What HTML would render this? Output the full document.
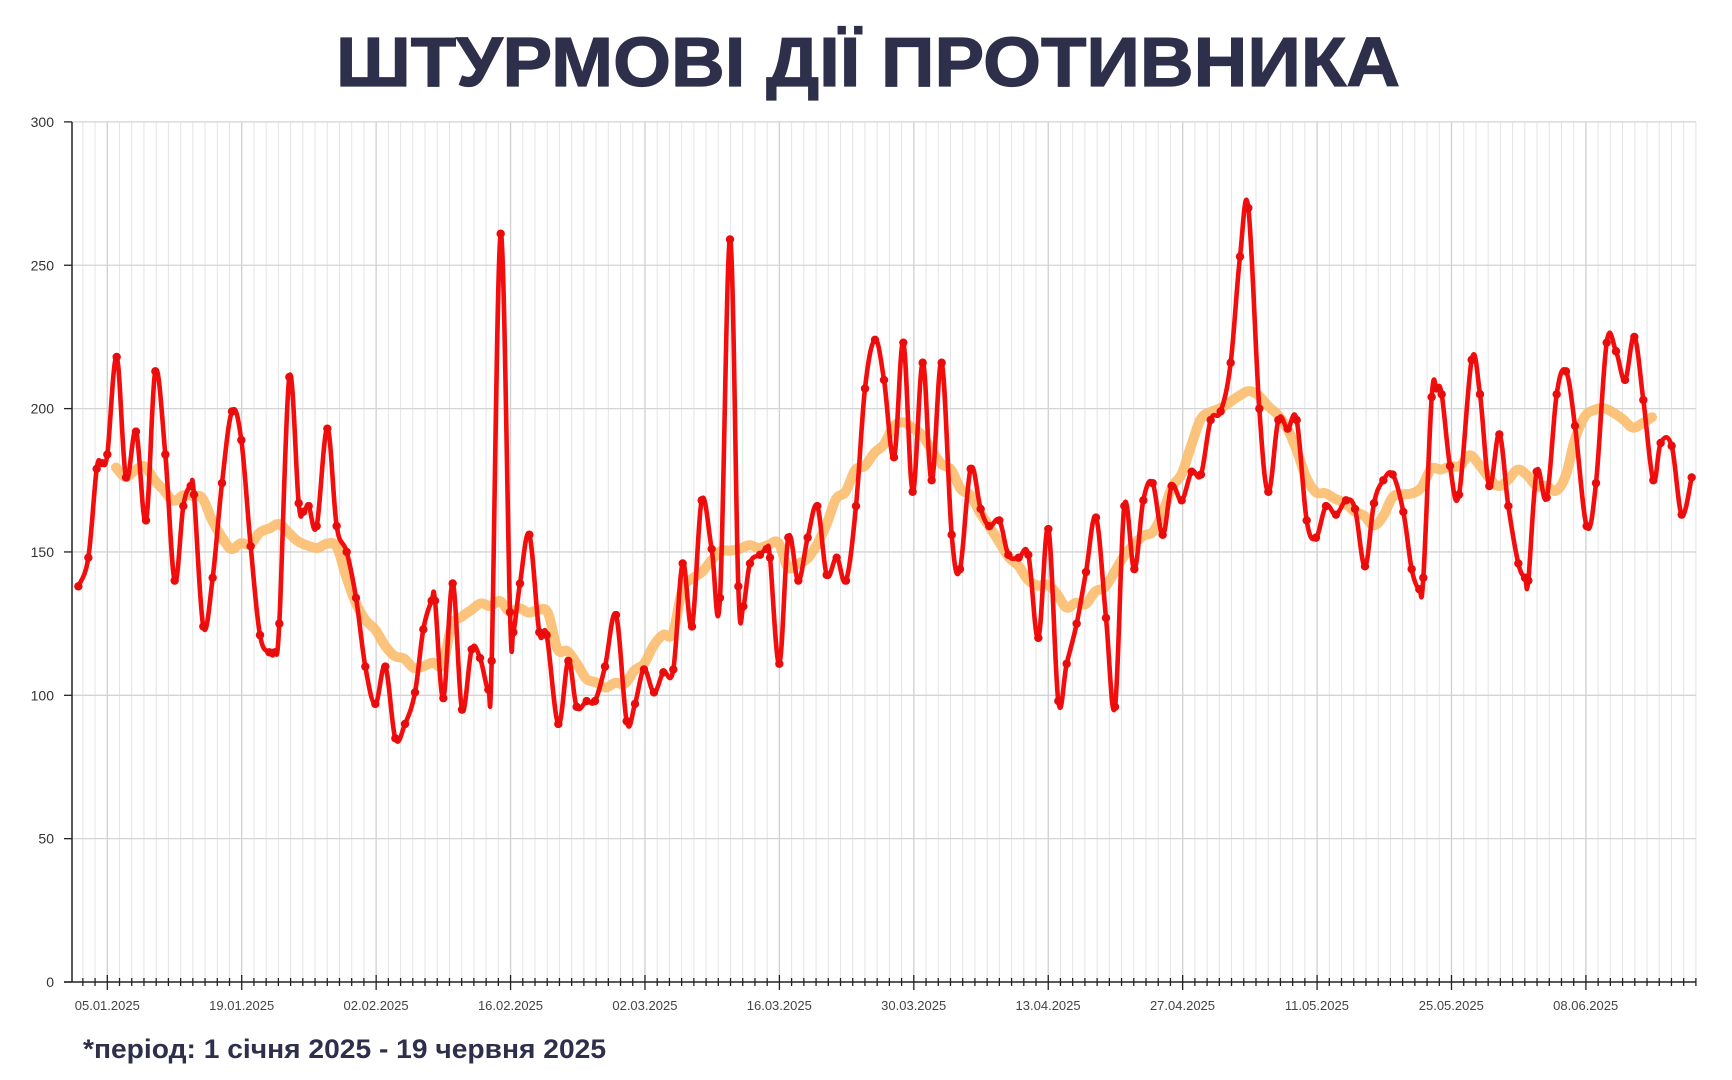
<!DOCTYPE html>
<html><head><meta charset="utf-8">
<style>
html,body{margin:0;padding:0;background:#fff;}
svg{display:block;}
</style></head>
<body>
<svg id="c" width="1732" height="1080" xmlns="http://www.w3.org/2000/svg" font-family="Liberation Sans, sans-serif">
<rect width="1732" height="1080" fill="#fff"/>
<text x="868" y="86" text-anchor="middle" font-size="70" font-weight="bold" fill="#2e2f4a" stroke="#2e2f4a" stroke-width="1.2" textLength="1064" lengthAdjust="spacingAndGlyphs">ШТУРМОВІ ДІЇ ПРОТИВНИКА</text>
<g id="grid"></g>
<g id="series"></g>
<g id="axes"></g>
<text x="83" y="1058" font-size="27" font-weight="bold" fill="#2e2f4a" textLength="523" lengthAdjust="spacingAndGlyphs">*період: 1 січня 2025 - 19 червня 2025</text>
</svg>
<script>
var NS="http://www.w3.org/2000/svg";
function el(p,t,a,txt){var e=document.createElementNS(NS,t);for(var k in a)e.setAttribute(k,a[k]);if(txt!==undefined)e.textContent=txt;p.appendChild(e);return e;}
var X0=72,X1=1696,Y0=982,K=2.867;
function Y(v){return Y0-v*K;}
var grid=document.getElementById('grid'),axes=document.getElementById('axes'),ser=document.getElementById('series');
var ticks=[];
for(var k=-2;;k++){var x=107.3+k*12.22;if(x>X1)break;if(x<X0+2)continue;ticks.push([x,k%11===0]);}
ticks.forEach(function(t){el(grid,'line',{x1:t[0],x2:t[0],y1:122,y2:Y0,stroke:t[1]?'#cfcfcf':'#e4e4e4','stroke-width':t[1]?1.3:1});});
el(grid,'line',{x1:X1,x2:X1,y1:122,y2:Y0,stroke:'#e4e4e4'});
for(var v=0;v<=300;v+=50){var y=Y(v);
 if(v>0)el(grid,'line',{x1:X0,x2:X1,y1:y,y2:y,stroke:'#d4d4d4','stroke-width':1.3});
 el(axes,'line',{x1:64,x2:X0,y1:y,y2:y,stroke:'#222','stroke-width':1.3});
 el(axes,'text',{x:54,y:y+5,'font-size':14,'text-anchor':'end',fill:'#333'},String(v));}
el(axes,'line',{x1:X0,x2:X0,y1:122,y2:Y0,stroke:'#222','stroke-width':1.5});
el(axes,'line',{x1:64,x2:X1,y1:Y0,y2:Y0,stroke:'#222','stroke-width':1.5});
ticks.forEach(function(t){el(axes,'line',{x1:t[0],x2:t[0],y1:Y0-(t[1]?7:4),y2:Y0+(t[1]?8:4),stroke:'#222','stroke-width':1.3});});
var labs=['05.01.2025','19.01.2025','02.02.2025','16.02.2025','02.03.2025','16.03.2025','30.03.2025','13.04.2025','27.04.2025','11.05.2025','25.05.2025','08.06.2025'];
labs.forEach(function(l,i){el(axes,'text',{x:107.3+i*134.4,y:1010,'font-size':13,'text-anchor':'middle',fill:'#444'},l);});
var segs=[
[70,[[25,138],[55,148],[80,179],[95,181],[112,184],[140,218],[168,176],[198,192],[228,161],[256,213],[286,184],[314,140],[340,166],[362,173],[372,170],[400,124],[428,141],[456,174],[486,199],[514,189],[542,152],[570,121],[598,115],[614,115],[628,125],[658,211],[686,167],[700,164],[716,166],[740,159],[772,193],[800,159],[830,150],[858,134],[886,110],[916,97],[946,110],[976,85],[1005,90]]],
[400,[[45,101],[70,123],[95,133],[105,133],[130,99],[158,139],[186,95],[215,116],[240,113],[265,102],[275,112],[302,261],[330,129],[340,122],[360,139],[388,156],[418,122],[440,121],[475,90],[505,112],[530,96],[560,98],[585,98],[615,110],[648,128],[680,91],[705,97],[732,109],[762,101],[790,108],[820,109],[848,146],[876,124],[905,168],[935,151],[960,134],[990,259],[1015,138]]],
[730,[[40,131],[60,146],[90,149],[110,151],[120,148],[148,111],[175,155],[205,140],[233,155],[262,166],[290,142],[320,148],[348,140],[378,166],[405,207],[435,224],[462,210],[492,183],[520,223],[548,171],[578,216],[605,175],[635,216],[665,156],[690,144],[722,179],[752,165],[778,159],[808,161],[835,149],[866,148],[895,149],[925,120],[955,158],[985,98],[1010,111]]],
[1060,[[50,125],[78,143],[108,162],[138,127],[165,96],[193,166],[223,144],[250,168],[278,174],[308,156],[335,173],[365,168],[395,178],[423,177],[452,196],[482,199],[512,216],[540,253],[565,270],[598,200],[625,171],[655,196],[683,193],[710,196],[740,161],[768,155],[798,166],[828,163],[858,168],[885,165],[915,145],[942,167],[970,175],[998,177]]],
[1390,[[40,164],[65,144],[88,137],[100,141],[125,204],[140,207],[155,205],[180,180],[207,170],[245,217],[270,205],[298,173],[328,191],[355,166],[385,146],[405,141],[415,140],[440,178],[470,169],[500,205],[528,213],[555,194],[590,159],[618,174],[650,223],[678,220],[705,210],[733,225],[760,203],[790,175],[812,188],[845,187],[875,163],[905,176]]]];
var P=[];segs.forEach(function(s){s[1].forEach(function(p){P.push([s[0]+p[0]/3,Y(p[1]),p[1]]);});});
function curve(pts){var d='M'+pts[0][0].toFixed(1)+' '+pts[0][1].toFixed(1);
 for(var i=0;i<pts.length-1;i++){var p0=pts[i-1]||pts[i],p1=pts[i],p2=pts[i+1],p3=pts[i+2]||p2,t=0.18;
  var c1x=p1[0]+(p2[0]-p0[0])*t,c1y=p1[1]+(p2[1]-p0[1])*t,c2x=p2[0]-(p3[0]-p1[0])*t,c2y=p2[1]-(p3[1]-p1[1])*t;
  d+=' C'+c1x.toFixed(1)+' '+c1y.toFixed(1)+' '+c2x.toFixed(1)+' '+c2y.toFixed(1)+' '+p2[0].toFixed(1)+' '+p2[1].toFixed(1);}
 return d;}
var M=[];
for(var x=116;x<=1660;x+=9.6){var s=0,n=0;
 for(var j=0;j<P.length;j++){if(Math.abs(P[j][0]-x)<=50){s+=P[j][2];n++;}}
 M.push([x,Y(s/n)]);}
el(ser,'path',{d:curve(M),fill:'none',stroke:'#fbb865','stroke-opacity':0.85,'stroke-width':10,'stroke-linejoin':'round','stroke-linecap':'round'});
el(ser,'path',{d:curve(P),fill:'none',stroke:'#f40d0d','stroke-width':4.6,'stroke-linejoin':'round'});
P.forEach(function(p){el(ser,'circle',{cx:p[0],cy:p[1],r:4.2,fill:'#e80c0c'});});
</script>
</body></html>
